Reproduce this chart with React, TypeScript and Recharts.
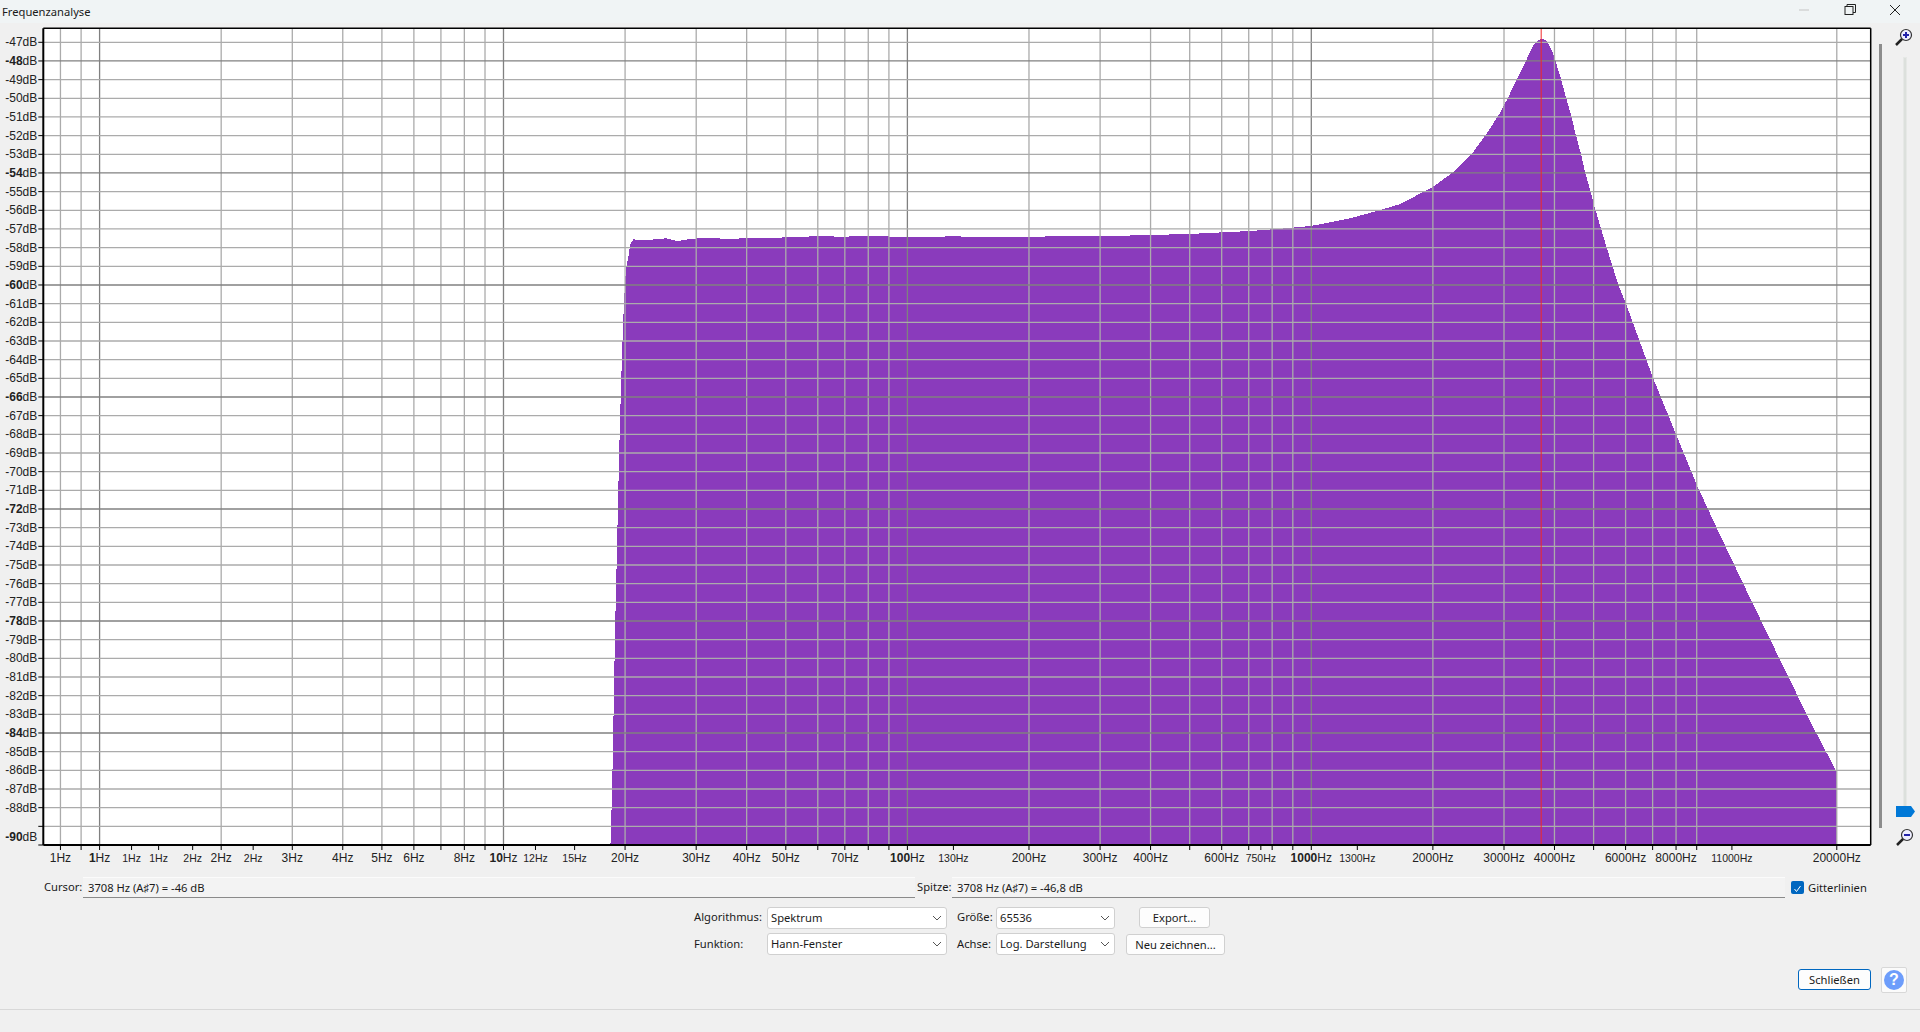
import { Area, AreaChart, ReferenceLine, XAxis, YAxis } from "recharts";

// Spectrum outline
const freqHz = [
  18.4, 18.56, 18.67, 18.78, 18.88, 18.99, 19.1, 19.2, 19.32, 19.43, 19.57, 19.69, 19.8, 19.99, 20.1, 20.25, 20.45, 20.57, 20.96,
  22.5, 25.3, 27, 29, 30.6, 33, 35.3, 40.7, 47, 54.2, 60, 68, 80, 95.9, 130, 169.5, 230, 300, 399, 530, 705, 837, 998, 1247, 1480,
  1658, 2002, 2270, 2495, 2719, 2932, 3069, 3225, 3414, 3545, 3641, 3726, 3826, 3937, 4018, 4146, 4273, 4395, 4514, 4654, 4761,
  4917, 5040, 5214, 5387, 5563, 5754, 6014, 6512, 7025, 8009, 9028, 10085, 11695, 13663, 15908, 17835, 20000,
];
const levelDb = [
  -90, -87.28, -84.71, -81.44, -78.87, -76.24, -74.21, -71.79, -69.44, -67.24, -65.04, -63.27, -61.77, -59.9, -59.2, -58.76, -58.3, -57.86, -57.56,
  -57.6, -57.5, -57.65, -57.54, -57.49, -57.47, -57.54, -57.49, -57.46, -57.45, -57.36, -57.42, -57.37, -57.42, -57.4, -57.42, -57.4, -57.38, -57.33, -57.24, -57.11, -56.99, -56.84, -56.43, -55.99,
  -55.67, -54.74, -53.88, -52.99, -51.88, -50.79, -49.97, -48.98, -47.91, -47.14, -46.88, -46.82, -46.91, -47.41, -47.95, -48.93, -49.97, -50.9, -51.93, -52.99, -53.95,
  -55.01, -55.9, -56.97, -57.99, -58.97, -59.97, -61.01, -63.06, -65.01, -68.03, -70.77, -73.01, -75.94, -78.97, -81.9, -84.05, -86.09,
];

const xTicks = [
  0.8, 0.9, 1, 1.2, 1.4, 1.7, 2, 2.4, 3, 4, 5, 6, 7, 8, 9, 10, 12, 15, 20, 30, 40, 50, 60, 70, 80, 90, 100, 130, 200, 300, 400, 500, 600,
  700, 750, 800, 900, 1000, 1300, 2000, 3000, 4000, 5000, 6000, 7000, 8000, 9000, 11000, 20000,
];
const xTickLabels = [
  "1", "", "1", "1", "1", "2", "2", "2", "3", "4", "5", "6", "", "8", "", "10", "12", "15", "20", "30", "40", "50", "", "70", "", "", "100", "130", "200", "300", "400", "", "600",
  "", "750", "", "", "1000", "1300", "2000", "3000", "4000", "", "6000", "", "8000", "", "11000", "20000",
];
const smallXTicks = [1.2, 1.4, 1.7, 2.4, 12, 15, 130, 750, 1300, 11000];
const boldXTicks = [1, 10, 100, 1000];
const xGridMinor = [0.8, 0.9, 2, 3, 4, 5, 6, 7, 8, 9, 20, 30, 40, 50, 60, 70, 80, 90, 200, 300, 400, 500, 600, 700, 800, 900, 2000, 3000, 4000, 5000, 6000, 7000, 8000, 9000, 20000];

const yTicks = [
  -47, -48, -49, -50, -51, -52, -53, -54, -55, -56, -57, -58, -59, -60, -61, -62, -63, -64, -65, -66, -67, -68,
  -69, -70, -71, -72, -73, -74, -75, -76, -77, -78, -79, -80, -81, -82, -83, -84, -85, -86, -87, -88, -89, -90,
];
const boldYTicks = [-48, -54, -60, -66, -72, -78, -84, -90];
const hiddenYLabels = [-89];

const peakHz = 3708;
const xMin = 0.7255;
const xMax = 24266;
const yMax = -46.25;

const table = freqHz.map((hz, i) => ({ hz, db: levelDb[i] }));

const uiFont = '"Noto Sans", sans-serif';
const axisFont = '"Liberation Sans", Arial, sans-serif';
const gridColor = "#ababab";
const gridMajor = "#808080";
const uiSize = 11.2;

function XTick({ x, y, payload }: any) {
  const label = xTickLabels[xTicks.indexOf(payload.value)];
  if (!label) return null;
  const size = smallXTicks.includes(payload.value) ? 10.5 : 12;
  return (
    <text x={x} y={y + 12} textAnchor="middle" fontSize={size} fontFamily={axisFont} fill="#222">
      <tspan fontWeight={boldXTicks.includes(payload.value) ? 700 : 400}>{label}</tspan>
      <tspan>Hz</tspan>
    </text>
  );
}

function YTick({ x, y, payload }: any) {
  if (hiddenYLabels.includes(payload.value)) return null;
  return (
    <text x={x} y={payload.value === -90 ? y - 4 : y + 4} textAnchor="end" fontSize={12} fontFamily={axisFont} fill="#222">
      <tspan fontWeight={boldYTicks.includes(payload.value) ? 700 : 400}>{payload.value}</tspan>
      <tspan>dB</tspan>
    </text>
  );
}

function Label({ x, y, text }: { x: number; y: number; text: string }) {
  return (
    <div style={{ position: "absolute", left: x, top: y - 10, height: 20, lineHeight: "20px", fontSize: uiSize, color: "#1a1a1a", whiteSpace: "nowrap", fontFamily: uiFont }}>
      {text}
    </div>
  );
}

function Select({ x, y, w, h, text }: { x: number; y: number; w: number; h: number; text: string }) {
  return (
    <div style={{ position: "absolute", left: x, top: y, width: w, height: h, boxSizing: "border-box", background: "#fff", border: "1px solid #d0d0d0", borderRadius: 3, fontFamily: uiFont, fontSize: uiSize, lineHeight: `${h - 2}px`, paddingLeft: 3, color: "#1a1a1a" }}>
      {text}
      <svg width={10} height={6} style={{ position: "absolute", right: 4, top: h / 2 - 4 }}>
        <path d="M1 1 L5 5 L9 1" fill="none" stroke="#555" strokeWidth={1} />
      </svg>
    </div>
  );
}

function Button({ x, y, w, h, text, blue }: { x: number; y: number; w: number; h: number; text: string; blue?: boolean }) {
  return (
    <div style={{ position: "absolute", left: x, top: y, width: w, height: h, boxSizing: "border-box", background: "#fdfdfd", border: blue ? "1px solid #0067c0" : "1px solid #d0d0d0", borderRadius: 3, fontFamily: uiFont, fontSize: uiSize, lineHeight: `${h - 2}px`, textAlign: "center", color: "#1a1a1a" }}>
      {text}
    </div>
  );
}

function Readout({ x, w, text }: { x: number; w: number; text: string }) {
  return (
    <div style={{ position: "absolute", left: x, top: 877, width: w, height: 21, boxSizing: "border-box", background: "#f3f3f3", borderTop: "1px solid #fbfbfb", borderBottom: "1px solid #8a8a8a", fontFamily: uiFont, fontSize: uiSize, lineHeight: "19px", paddingLeft: 5, color: "#1a1a1a" }}>
      {text}
    </div>
  );
}

function Magnifier({ x, y, minus }: { x: number; y: number; minus?: boolean }) {
  return (
    <svg width={20} height={20} style={{ position: "absolute", left: x, top: y }}>
      <line x1={2} y1={18} x2={9} y2={11} stroke="#222" strokeWidth={2.5} />
      <circle cx={12} cy={8} r={5.5} fill="#eef" stroke="#333" strokeWidth={1.2} />
      <line x1={9} y1={8} x2={15} y2={8} stroke="#2222aa" strokeWidth={2} />
      {!minus && <line x1={12} y1={5} x2={12} y2={11} stroke="#2222aa" strokeWidth={2} />}
    </svg>
  );
}

export default function App() {
  return (
    <div style={{ position: "absolute", left: 0, top: 0, width: 1920, height: 1032, overflow: "hidden", background: "#f0f0f0" }}>
      {/* title bar */}
      <div style={{ position: "absolute", left: 0, top: 0, width: 1920, height: 23, background: "#f0f4f5" }} />
      <Label x={2} y={12} text="Frequenzanalyse" />
      <svg width={110} height={20} style={{ position: "absolute", left: 1795, top: 0 }}>
        <line x1={4} y1={10} x2={14} y2={10} stroke="#c4c4c4" strokeWidth={1} />
        <rect x={50} y={6.5} width={8} height={8} fill="none" stroke="#222" strokeWidth={1} />
        <path d="M52 6.5 V4.5 H60.5 V12.5 H58" fill="none" stroke="#222" strokeWidth={1} />
        <path d="M95 5 L105 15 M105 5 L95 15" stroke="#222" strokeWidth={1} />
      </svg>

      {/* white plot background */}
      <div style={{ position: "absolute", left: 43, top: 28, width: 1828, height: 817, background: "#fff" }} />

      <div style={{ position: "absolute", left: 0, top: 0 }}>
        <AreaChart width={1920} height={880} data={table} margin={{ top: 28.3, right: 49.3, bottom: 0, left: 0 }}>
          <XAxis
            dataKey="hz"
            type="number"
            scale="log"
            domain={[xMin, xMax]}
            allowDataOverflow
            ticks={xTicks}
            interval={0}
            height={35}
            tickSize={5}
            tickMargin={0}
            tick={<XTick />}
            tickLine={{ stroke: "#000" }}
            axisLine={{ stroke: "#000", strokeWidth: 2 }}
          />
          <YAxis
            type="number"
            domain={[-90, yMax]}
            allowDataOverflow
            ticks={yTicks}
            interval={0}
            width={43.3}
            tickSize={5}
            tickMargin={1}
            tick={<YTick />}
            tickLine={{ stroke: "#000" }}
            axisLine={{ stroke: "#000", strokeWidth: 2 }}
          />
          <Area dataKey="db" type="linear" baseValue={-90} stroke="none" fill="#8a3bbc" fillOpacity={1} shapeRendering="crispEdges" dot={false} activeDot={false} isAnimationActive={false} />
          {xGridMinor.map((hz) => (
            <ReferenceLine key={hz} x={hz} stroke={gridColor} strokeWidth={1.3} />
          ))}
          {boldXTicks.map((hz) => (
            <ReferenceLine key={hz} x={hz} stroke={gridMajor} strokeWidth={1.3} />
          ))}
          {yTicks.filter((db) => !boldYTicks.includes(db)).map((db) => (
            <ReferenceLine key={db} y={db} stroke={gridColor} strokeWidth={1.3} />
          ))}
          {boldYTicks.filter((db) => db !== -90).map((db) => (
            <ReferenceLine key={db} y={db} stroke={gridMajor} strokeWidth={1.3} />
          ))}
          <ReferenceLine x={peakHz} stroke="#f02828" strokeWidth={1} />
          <ReferenceLine y={yMax} stroke="#000" strokeWidth={1.5} />
          <ReferenceLine x={xMax} stroke="#000" strokeWidth={1.5} />
        </AreaChart>
      </div>

      {/* scale bar and zoom slider on the right */}
      <div style={{ position: "absolute", left: 1879, top: 44, width: 2.5, height: 784, background: "#8c8c8c" }} />
      <Magnifier x={1894} y={27} />
      <div style={{ position: "absolute", left: 1903, top: 57, width: 4, height: 750, background: "#dce0dc", border: "1px solid #e6e8e6", boxSizing: "border-box" }} />
      <svg width={20} height={12} style={{ position: "absolute", left: 1896, top: 806 }}>
        <path d="M0 0 H15 L19 5.5 L15 11 H0 Z" fill="#0078d7" />
      </svg>
      <Magnifier x={1895} y={827} minus />

      {/* readouts */}
      <Label x={44} y={887} text="Cursor:" />
      <Readout x={83} w={832} text="3708 Hz (A♯7) = -46 dB" />
      <Label x={917} y={887} text="Spitze:" />
      <Readout x={952} w={833} text="3708 Hz (A♯7) = -46,8 dB" />
      <div style={{ position: "absolute", left: 1791, top: 881, width: 13, height: 13, borderRadius: 2, background: "#0067c0" }}>
        <svg width={13} height={13}>
          <path d="M3.5 7 L5.5 9.5 L9.5 4" fill="none" stroke="#fff" strokeWidth={1} />
        </svg>
      </div>
      <Label x={1808} y={888} text="Gitterlinien" />

      {/* controls */}
      <Label x={694} y={917} text="Algorithmus:" />
      <Select x={767} y={907} w={180} h={22} text="Spektrum" />
      <Label x={694} y={944} text="Funktion:" />
      <Select x={767} y={933} w={180} h={22} text="Hann-Fenster" />
      <Label x={957} y={917} text="Größe:" />
      <Select x={996} y={907} w={119} h={22} text="65536" />
      <Label x={957} y={944} text="Achse:" />
      <Select x={996} y={933} w={119} h={22} text="Log. Darstellung" />
      <Button x={1139} y={907} w={71} h={21} text="Export..." />
      <Button x={1126} y={934} w={99} h={21} text="Neu zeichnen..." />
      <Button x={1798} y={969} w={73} h={21} text="Schließen" blue />
      <div style={{ position: "absolute", left: 1881, top: 967, width: 26, height: 26, boxSizing: "border-box", background: "#fbfbfb", border: "1px solid #d8d8d8", borderRadius: 2 }}>
        <div style={{ position: "absolute", left: 2, top: 2, width: 20, height: 20, borderRadius: 10, background: "#6d9dfb", color: "#fff", fontFamily: axisFont, fontWeight: 700, fontSize: 16, lineHeight: "20px", textAlign: "center" }}>?</div>
      </div>
      <div style={{ position: "absolute", left: 0, top: 1009, width: 1920, height: 1, background: "#d8d8d8" }} />
    </div>
  );
}
